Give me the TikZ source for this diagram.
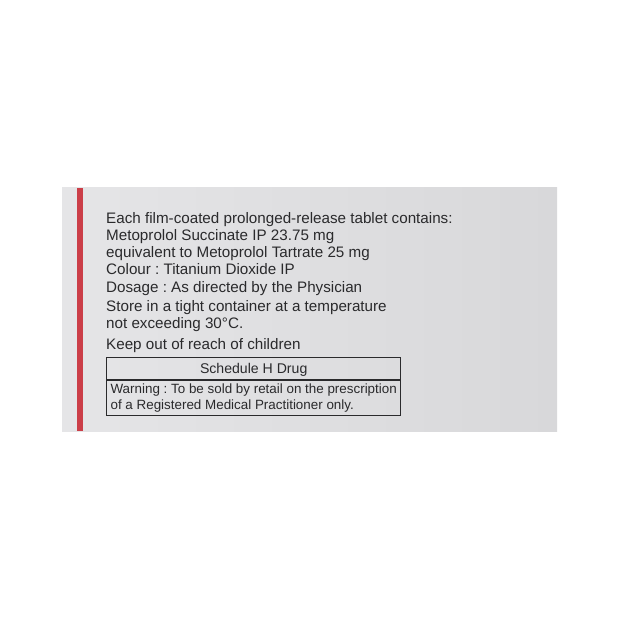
\documentclass[tikz,border=0pt]{standalone}
\usepackage{fontspec}
\setmainfont{Liberation Sans}
\usetikzlibrary{positioning}
\definecolor{cardlight}{RGB}{229,229,231}
\definecolor{carddark}{RGB}{216,216,218}
\definecolor{stripered}{RGB}{203,62,72}
\definecolor{inkgray}{RGB}{42,42,44}
\frenchspacing

\begin{document}
\begin{tikzpicture}[x=1pt,y=-1pt,
    txt/.style={anchor=base west,inner sep=0pt,text=inkgray,font=\fontsize{15.2}{17.4}\selectfont},
    boxline/.style={draw=inkgray,line width=0.9pt,minimum width=294pt,text=inkgray}]
\useasboundingbox (0,0) rectangle (620,620);
\fill[white] (0,0) rectangle (620,620);

% carton face and red edge
\shade[left color=cardlight,right color=carddark] (62,188) rectangle (557,431);
\fill[stripered] (77,188) rectangle (82.5,431);

% contents
\node (l1) at (106,223.3) [txt] {Each film-coated prolonged-release tablet contains:};
\node (l2) at (106,240.5) [txt] {Metoprolol Succinate IP 23.75 mg};
\node (l3) at (106,257.6) [txt] {equivalent to Metoprolol Tartrate 25 mg};
\node (l4) at (106,274.9) [txt] {Colour : Titanium Dioxide IP};
\node (l5) at (106,292.2) [txt] {Dosage : As directed by the Physician};
\node (l6) at (106,311.3) [txt] {Store in a tight container at a temperature};
\node (l7) at (106,328.8) [txt] {not exceeding 30°C.};
\node (l8) at (106,349) [txt] {Keep out of reach of children};

% schedule box
\node (sched) at (253.7,368.5) [boxline,minimum height=21.6pt,text depth=0pt,font=\fontsize{14.1}{16}\selectfont] {Schedule H Drug};
\node (warn) [below=0pt of sched,boxline,inner ysep=3.3pt,align=left,font=\fontsize{13.4}{16}\selectfont]
  {Warning : To be sold by retail on the prescription\\of a Registered Medical Practitioner only.};

\end{tikzpicture}
\end{document}
